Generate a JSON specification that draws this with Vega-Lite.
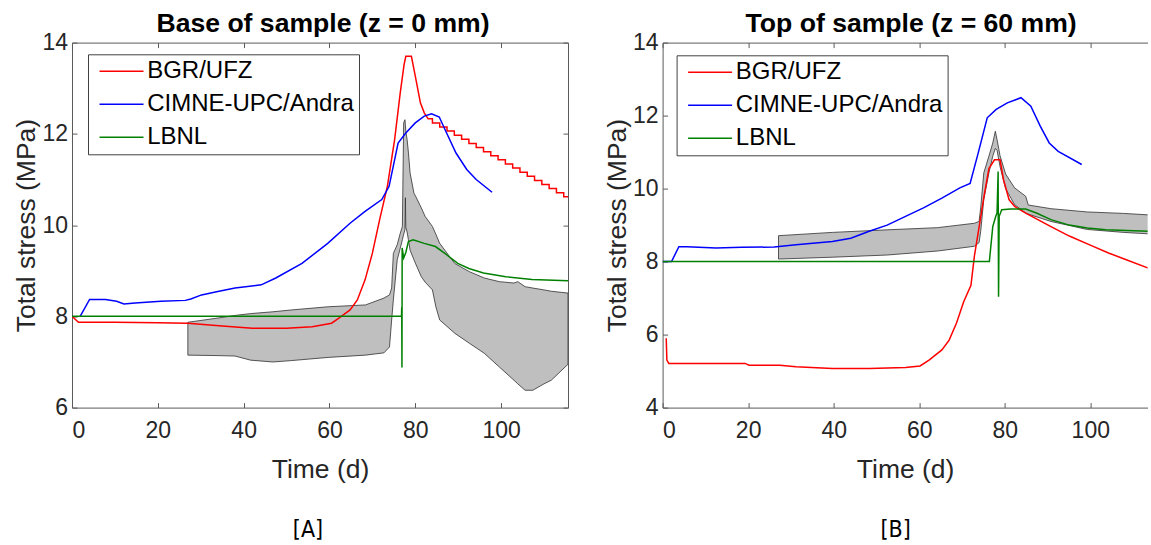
{
  "$schema": "https://vega.github.io/schema/vega-lite/v6.json",
  "padding": {"left": 13, "top": 10.6, "right": 0, "bottom": 0},
  "background": "white",
  "config": {
    "font": "Liberation Sans",
    "view": {"stroke": null},
    "axis": {"domainColor": "#5a5a5a", "tickColor": "#5a5a5a", "tickSize": -5, "labelFontSize": 23, "labelColor": "#262626", "titleFontSize": 26.5, "titleColor": "#262626", "titleFontWeight": "normal", "grid": false, "labelFont": "Liberation Sans", "titleFont": "Liberation Sans"},
    "axisX": {"labelPadding": 17, "titlePadding": 14},
    "axisY": {"labelPadding": 9.5, "titlePadding": 1.2},
    "title": {"fontSize": 26.6, "fontWeight": "bold", "color": "#000000", "font": "Liberation Sans"}
  },
  "datasets": {
    "lines": [
      {"panel": "A", "model": "BGR/UFZ", "t": 0, "v": 8.0},
      {"panel": "A", "model": "BGR/UFZ", "t": 1.5, "v": 7.87},
      {"panel": "A", "model": "BGR/UFZ", "t": 10, "v": 7.87},
      {"panel": "A", "model": "BGR/UFZ", "t": 20, "v": 7.86},
      {"panel": "A", "model": "BGR/UFZ", "t": 27, "v": 7.85},
      {"panel": "A", "model": "BGR/UFZ", "t": 35, "v": 7.79},
      {"panel": "A", "model": "BGR/UFZ", "t": 42, "v": 7.74},
      {"panel": "A", "model": "BGR/UFZ", "t": 50, "v": 7.74},
      {"panel": "A", "model": "BGR/UFZ", "t": 56, "v": 7.77},
      {"panel": "A", "model": "BGR/UFZ", "t": 60.5, "v": 7.85},
      {"panel": "A", "model": "BGR/UFZ", "t": 62.2, "v": 7.96},
      {"panel": "A", "model": "BGR/UFZ", "t": 64.8, "v": 8.14},
      {"panel": "A", "model": "BGR/UFZ", "t": 66.5, "v": 8.36},
      {"panel": "A", "model": "BGR/UFZ", "t": 68.3, "v": 8.8},
      {"panel": "A", "model": "BGR/UFZ", "t": 70, "v": 9.38},
      {"panel": "A", "model": "BGR/UFZ", "t": 71.7, "v": 10.12},
      {"panel": "A", "model": "BGR/UFZ", "t": 73.5, "v": 10.85},
      {"panel": "A", "model": "BGR/UFZ", "t": 75.2, "v": 11.88},
      {"panel": "A", "model": "BGR/UFZ", "t": 76.5, "v": 12.9},
      {"panel": "A", "model": "BGR/UFZ", "t": 77.4, "v": 13.52},
      {"panel": "A", "model": "BGR/UFZ", "t": 77.8, "v": 13.7},
      {"panel": "A", "model": "BGR/UFZ", "t": 79.1, "v": 13.7},
      {"panel": "A", "model": "BGR/UFZ", "t": 80, "v": 13.27},
      {"panel": "A", "model": "BGR/UFZ", "t": 81.2, "v": 12.68},
      {"panel": "A", "model": "BGR/UFZ", "t": 82.1, "v": 12.46},
      {"panel": "A", "model": "BGR/UFZ", "t": 83.0, "v": 12.33},
      {"panel": "A", "model": "BGR/UFZ", "t": 84.0, "v": 12.33},
      {"panel": "A", "model": "BGR/UFZ", "t": 84.01, "v": 12.24},
      {"panel": "A", "model": "BGR/UFZ", "t": 85.7, "v": 12.24},
      {"panel": "A", "model": "BGR/UFZ", "t": 85.71, "v": 12.15},
      {"panel": "A", "model": "BGR/UFZ", "t": 87.4, "v": 12.15},
      {"panel": "A", "model": "BGR/UFZ", "t": 87.41, "v": 12.06},
      {"panel": "A", "model": "BGR/UFZ", "t": 89.1, "v": 12.06},
      {"panel": "A", "model": "BGR/UFZ", "t": 89.11, "v": 11.97},
      {"panel": "A", "model": "BGR/UFZ", "t": 90.8, "v": 11.97},
      {"panel": "A", "model": "BGR/UFZ", "t": 90.81, "v": 11.88},
      {"panel": "A", "model": "BGR/UFZ", "t": 92.5, "v": 11.88},
      {"panel": "A", "model": "BGR/UFZ", "t": 92.51, "v": 11.79},
      {"panel": "A", "model": "BGR/UFZ", "t": 94.2, "v": 11.79},
      {"panel": "A", "model": "BGR/UFZ", "t": 94.21, "v": 11.70},
      {"panel": "A", "model": "BGR/UFZ", "t": 95.9, "v": 11.70},
      {"panel": "A", "model": "BGR/UFZ", "t": 95.91, "v": 11.61},
      {"panel": "A", "model": "BGR/UFZ", "t": 97.6, "v": 11.61},
      {"panel": "A", "model": "BGR/UFZ", "t": 97.61, "v": 11.52},
      {"panel": "A", "model": "BGR/UFZ", "t": 99.3, "v": 11.52},
      {"panel": "A", "model": "BGR/UFZ", "t": 99.31, "v": 11.43},
      {"panel": "A", "model": "BGR/UFZ", "t": 101.0, "v": 11.43},
      {"panel": "A", "model": "BGR/UFZ", "t": 101.01, "v": 11.34},
      {"panel": "A", "model": "BGR/UFZ", "t": 102.7, "v": 11.34},
      {"panel": "A", "model": "BGR/UFZ", "t": 102.71, "v": 11.25},
      {"panel": "A", "model": "BGR/UFZ", "t": 104.4, "v": 11.25},
      {"panel": "A", "model": "BGR/UFZ", "t": 104.41, "v": 11.16},
      {"panel": "A", "model": "BGR/UFZ", "t": 106.1, "v": 11.16},
      {"panel": "A", "model": "BGR/UFZ", "t": 106.11, "v": 11.07},
      {"panel": "A", "model": "BGR/UFZ", "t": 107.8, "v": 11.07},
      {"panel": "A", "model": "BGR/UFZ", "t": 107.81, "v": 10.98},
      {"panel": "A", "model": "BGR/UFZ", "t": 109.5, "v": 10.98},
      {"panel": "A", "model": "BGR/UFZ", "t": 109.51, "v": 10.89},
      {"panel": "A", "model": "BGR/UFZ", "t": 111.2, "v": 10.89},
      {"panel": "A", "model": "BGR/UFZ", "t": 111.21, "v": 10.80},
      {"panel": "A", "model": "BGR/UFZ", "t": 112.9, "v": 10.80},
      {"panel": "A", "model": "BGR/UFZ", "t": 112.91, "v": 10.71},
      {"panel": "A", "model": "BGR/UFZ", "t": 114.6, "v": 10.71},
      {"panel": "A", "model": "BGR/UFZ", "t": 114.61, "v": 10.62},
      {"panel": "A", "model": "BGR/UFZ", "t": 115.6, "v": 10.62},

      {"panel": "A", "model": "CIMNE-UPC/Andra", "t": 1.9, "v": 8.0},
      {"panel": "A", "model": "CIMNE-UPC/Andra", "t": 4.1, "v": 8.37},
      {"panel": "A", "model": "CIMNE-UPC/Andra", "t": 7.8, "v": 8.37},
      {"panel": "A", "model": "CIMNE-UPC/Andra", "t": 10.4, "v": 8.33},
      {"panel": "A", "model": "CIMNE-UPC/Andra", "t": 12.1, "v": 8.27},
      {"panel": "A", "model": "CIMNE-UPC/Andra", "t": 14.7, "v": 8.29},
      {"panel": "A", "model": "CIMNE-UPC/Andra", "t": 20.7, "v": 8.33},
      {"panel": "A", "model": "CIMNE-UPC/Andra", "t": 26.4, "v": 8.35},
      {"panel": "A", "model": "CIMNE-UPC/Andra", "t": 27.7, "v": 8.38},
      {"panel": "A", "model": "CIMNE-UPC/Andra", "t": 30.2, "v": 8.47},
      {"panel": "A", "model": "CIMNE-UPC/Andra", "t": 33.7, "v": 8.54},
      {"panel": "A", "model": "CIMNE-UPC/Andra", "t": 38, "v": 8.62},
      {"panel": "A", "model": "CIMNE-UPC/Andra", "t": 44.1, "v": 8.69},
      {"panel": "A", "model": "CIMNE-UPC/Andra", "t": 47.5, "v": 8.84},
      {"panel": "A", "model": "CIMNE-UPC/Andra", "t": 53.6, "v": 9.16},
      {"panel": "A", "model": "CIMNE-UPC/Andra", "t": 59.6, "v": 9.6},
      {"panel": "A", "model": "CIMNE-UPC/Andra", "t": 64.8, "v": 10.04},
      {"panel": "A", "model": "CIMNE-UPC/Andra", "t": 68.3, "v": 10.3},
      {"panel": "A", "model": "CIMNE-UPC/Andra", "t": 72.2, "v": 10.56},
      {"panel": "A", "model": "CIMNE-UPC/Andra", "t": 73.9, "v": 10.85},
      {"panel": "A", "model": "CIMNE-UPC/Andra", "t": 76, "v": 11.8},
      {"panel": "A", "model": "CIMNE-UPC/Andra", "t": 77.8, "v": 12.02},
      {"panel": "A", "model": "CIMNE-UPC/Andra", "t": 80, "v": 12.24},
      {"panel": "A", "model": "CIMNE-UPC/Andra", "t": 82.1, "v": 12.39},
      {"panel": "A", "model": "CIMNE-UPC/Andra", "t": 83.8, "v": 12.44},
      {"panel": "A", "model": "CIMNE-UPC/Andra", "t": 85.6, "v": 12.37},
      {"panel": "A", "model": "CIMNE-UPC/Andra", "t": 86.9, "v": 12.1},
      {"panel": "A", "model": "CIMNE-UPC/Andra", "t": 89.5, "v": 11.58},
      {"panel": "A", "model": "CIMNE-UPC/Andra", "t": 92, "v": 11.22},
      {"panel": "A", "model": "CIMNE-UPC/Andra", "t": 94.2, "v": 11.0},
      {"panel": "A", "model": "CIMNE-UPC/Andra", "t": 97.9, "v": 10.72},

      {"panel": "A", "model": "LBNL", "t": 0, "v": 8.0},
      {"panel": "A", "model": "LBNL", "t": 76.8, "v": 8.0},
      {"panel": "A", "model": "LBNL", "t": 76.85, "v": 8.2},
      {"panel": "A", "model": "LBNL", "t": 76.9, "v": 6.88},
      {"panel": "A", "model": "LBNL", "t": 76.95, "v": 9.5},
      {"panel": "A", "model": "LBNL", "t": 77.3, "v": 9.28},
      {"panel": "A", "model": "LBNL", "t": 77.8, "v": 9.4},
      {"panel": "A", "model": "LBNL", "t": 78.4, "v": 9.64},
      {"panel": "A", "model": "LBNL", "t": 79.5, "v": 9.68},
      {"panel": "A", "model": "LBNL", "t": 82.1, "v": 9.6},
      {"panel": "A", "model": "LBNL", "t": 84.7, "v": 9.53},
      {"panel": "A", "model": "LBNL", "t": 86.9, "v": 9.38},
      {"panel": "A", "model": "LBNL", "t": 89.9, "v": 9.16},
      {"panel": "A", "model": "LBNL", "t": 92.5, "v": 9.05},
      {"panel": "A", "model": "LBNL", "t": 95.9, "v": 8.95},
      {"panel": "A", "model": "LBNL", "t": 101.1, "v": 8.87},
      {"panel": "A", "model": "LBNL", "t": 107.2, "v": 8.81},
      {"panel": "A", "model": "LBNL", "t": 115.6, "v": 8.78},

      {"panel": "B", "model": "BGR/UFZ", "t": 0.85, "v": 5.9},
      {"panel": "B", "model": "BGR/UFZ", "t": 1.0, "v": 5.3},
      {"panel": "B", "model": "BGR/UFZ", "t": 1.45, "v": 5.21},
      {"panel": "B", "model": "BGR/UFZ", "t": 19.3, "v": 5.21},
      {"panel": "B", "model": "BGR/UFZ", "t": 20.2, "v": 5.16},
      {"panel": "B", "model": "BGR/UFZ", "t": 27.4, "v": 5.16},
      {"panel": "B", "model": "BGR/UFZ", "t": 31.2, "v": 5.12},
      {"panel": "B", "model": "BGR/UFZ", "t": 39.7, "v": 5.07},
      {"panel": "B", "model": "BGR/UFZ", "t": 48.3, "v": 5.07},
      {"panel": "B", "model": "BGR/UFZ", "t": 56.8, "v": 5.1},
      {"panel": "B", "model": "BGR/UFZ", "t": 60.2, "v": 5.14},
      {"panel": "B", "model": "BGR/UFZ", "t": 62.3, "v": 5.3},
      {"panel": "B", "model": "BGR/UFZ", "t": 65.3, "v": 5.58},
      {"panel": "B", "model": "BGR/UFZ", "t": 67, "v": 5.85},
      {"panel": "B", "model": "BGR/UFZ", "t": 68.7, "v": 6.31},
      {"panel": "B", "model": "BGR/UFZ", "t": 70.4, "v": 6.9},
      {"panel": "B", "model": "BGR/UFZ", "t": 72.1, "v": 7.35},
      {"panel": "B", "model": "BGR/UFZ", "t": 72.9, "v": 8.15},
      {"panel": "B", "model": "BGR/UFZ", "t": 73.8, "v": 8.8},
      {"panel": "B", "model": "BGR/UFZ", "t": 75.1, "v": 9.75},
      {"panel": "B", "model": "BGR/UFZ", "t": 76.3, "v": 10.55},
      {"panel": "B", "model": "BGR/UFZ", "t": 77.6, "v": 10.79},
      {"panel": "B", "model": "BGR/UFZ", "t": 78.9, "v": 10.79},
      {"panel": "B", "model": "BGR/UFZ", "t": 79.7, "v": 10.25},
      {"panel": "B", "model": "BGR/UFZ", "t": 81, "v": 9.7},
      {"panel": "B", "model": "BGR/UFZ", "t": 82.3, "v": 9.51},
      {"panel": "B", "model": "BGR/UFZ", "t": 84.9, "v": 9.33},
      {"panel": "B", "model": "BGR/UFZ", "t": 90.8, "v": 8.96},
      {"panel": "B", "model": "BGR/UFZ", "t": 95.1, "v": 8.7},
      {"panel": "B", "model": "BGR/UFZ", "t": 100, "v": 8.45},
      {"panel": "B", "model": "BGR/UFZ", "t": 104.4, "v": 8.23},
      {"panel": "B", "model": "BGR/UFZ", "t": 107.8, "v": 8.08},
      {"panel": "B", "model": "BGR/UFZ", "t": 113.6, "v": 7.82},

      {"panel": "B", "model": "CIMNE-UPC/Andra", "t": 0, "v": 8.0},
      {"panel": "B", "model": "CIMNE-UPC/Andra", "t": 2.1, "v": 8.0},
      {"panel": "B", "model": "CIMNE-UPC/Andra", "t": 3.8, "v": 8.41},
      {"panel": "B", "model": "CIMNE-UPC/Andra", "t": 5.7, "v": 8.41},
      {"panel": "B", "model": "CIMNE-UPC/Andra", "t": 12.5, "v": 8.37},
      {"panel": "B", "model": "CIMNE-UPC/Andra", "t": 18.5, "v": 8.39},
      {"panel": "B", "model": "CIMNE-UPC/Andra", "t": 26.1, "v": 8.4},
      {"panel": "B", "model": "CIMNE-UPC/Andra", "t": 31.2, "v": 8.46},
      {"panel": "B", "model": "CIMNE-UPC/Andra", "t": 39.7, "v": 8.55},
      {"panel": "B", "model": "CIMNE-UPC/Andra", "t": 44, "v": 8.64},
      {"panel": "B", "model": "CIMNE-UPC/Andra", "t": 48.3, "v": 8.83},
      {"panel": "B", "model": "CIMNE-UPC/Andra", "t": 52.5, "v": 9.0},
      {"panel": "B", "model": "CIMNE-UPC/Andra", "t": 56.8, "v": 9.24},
      {"panel": "B", "model": "CIMNE-UPC/Andra", "t": 61, "v": 9.47},
      {"panel": "B", "model": "CIMNE-UPC/Andra", "t": 65.3, "v": 9.74},
      {"panel": "B", "model": "CIMNE-UPC/Andra", "t": 69.5, "v": 10.02},
      {"panel": "B", "model": "CIMNE-UPC/Andra", "t": 71.9, "v": 10.14},
      {"panel": "B", "model": "CIMNE-UPC/Andra", "t": 73.8, "v": 10.98},
      {"panel": "B", "model": "CIMNE-UPC/Andra", "t": 75.9, "v": 11.94},
      {"panel": "B", "model": "CIMNE-UPC/Andra", "t": 78, "v": 12.17},
      {"panel": "B", "model": "CIMNE-UPC/Andra", "t": 80.6, "v": 12.35},
      {"panel": "B", "model": "CIMNE-UPC/Andra", "t": 83.8, "v": 12.49},
      {"panel": "B", "model": "CIMNE-UPC/Andra", "t": 86.1, "v": 12.26},
      {"panel": "B", "model": "CIMNE-UPC/Andra", "t": 88.3, "v": 11.71},
      {"panel": "B", "model": "CIMNE-UPC/Andra", "t": 90.4, "v": 11.25},
      {"panel": "B", "model": "CIMNE-UPC/Andra", "t": 92.5, "v": 11.02},
      {"panel": "B", "model": "CIMNE-UPC/Andra", "t": 98, "v": 10.66},

      {"panel": "B", "model": "LBNL", "t": 0, "v": 8.0},
      {"panel": "B", "model": "LBNL", "t": 76.4, "v": 8.0},
      {"panel": "B", "model": "LBNL", "t": 77.2, "v": 8.96},
      {"panel": "B", "model": "LBNL", "t": 77.9, "v": 9.24},
      {"panel": "B", "model": "LBNL", "t": 78.2, "v": 9.33},
      {"panel": "B", "model": "LBNL", "t": 78.45, "v": 10.47},
      {"panel": "B", "model": "LBNL", "t": 78.55, "v": 7.04},
      {"panel": "B", "model": "LBNL", "t": 78.7, "v": 9.24},
      {"panel": "B", "model": "LBNL", "t": 79.3, "v": 9.42},
      {"panel": "B", "model": "LBNL", "t": 81.4, "v": 9.44},
      {"panel": "B", "model": "LBNL", "t": 84.9, "v": 9.44},
      {"panel": "B", "model": "LBNL", "t": 87.4, "v": 9.33},
      {"panel": "B", "model": "LBNL", "t": 90.8, "v": 9.15},
      {"panel": "B", "model": "LBNL", "t": 95.1, "v": 9.0},
      {"panel": "B", "model": "LBNL", "t": 99.3, "v": 8.92},
      {"panel": "B", "model": "LBNL", "t": 103.6, "v": 8.87},
      {"panel": "B", "model": "LBNL", "t": 113.6, "v": 8.83}
    ],
    "band": [
      {"panel": "A", "t": 27.0, "lo": 7.15, "hi": 7.87},
      {"panel": "A", "t": 33.8, "lo": 7.14, "hi": 7.96},
      {"panel": "A", "t": 38.0, "lo": 7.13, "hi": 8.02},
      {"panel": "A", "t": 41.6, "lo": 7.04, "hi": 8.06},
      {"panel": "A", "t": 46.8, "lo": 7.0, "hi": 8.1},
      {"panel": "A", "t": 51.1, "lo": 7.03, "hi": 8.14},
      {"panel": "A", "t": 59.7, "lo": 7.1, "hi": 8.21},
      {"panel": "A", "t": 68.4, "lo": 7.15, "hi": 8.25},
      {"panel": "A", "t": 72.7, "lo": 7.2, "hi": 8.4},
      {"panel": "A", "t": 74.0, "lo": 7.33, "hi": 8.47},
      {"panel": "A", "t": 74.5, "lo": 7.92, "hi": 8.62},
      {"panel": "A", "t": 74.9, "lo": 8.36, "hi": 9.38},
      {"panel": "A", "t": 75.8, "lo": 9.24, "hi": 9.57},
      {"panel": "A", "t": 76.5, "lo": 9.49, "hi": 9.82},
      {"panel": "A", "t": 77.0, "lo": 9.68, "hi": 9.97},
      {"panel": "A", "t": 77.3, "lo": 9.8, "hi": 12.24},
      {"panel": "A", "t": 77.6, "lo": 9.9, "hi": 12.31},
      {"panel": "A", "t": 77.7, "lo": 10.6, "hi": 12.2},
      {"panel": "A", "t": 77.8, "lo": 9.95, "hi": 12.05},
      {"panel": "A", "t": 78.1, "lo": 9.85, "hi": 11.88},
      {"panel": "A", "t": 78.4, "lo": 9.68, "hi": 11.6},
      {"panel": "A", "t": 78.8, "lo": 9.45, "hi": 11.14},
      {"panel": "A", "t": 79.7, "lo": 9.24, "hi": 10.7},
      {"panel": "A", "t": 80.1, "lo": 9.15, "hi": 10.63},
      {"panel": "A", "t": 81.4, "lo": 8.87, "hi": 10.38},
      {"panel": "A", "t": 82.3, "lo": 8.75, "hi": 10.19},
      {"panel": "A", "t": 84.0, "lo": 8.58, "hi": 9.97},
      {"panel": "A", "t": 84.8, "lo": 8.21, "hi": 9.8},
      {"panel": "A", "t": 85.7, "lo": 7.92, "hi": 9.6},
      {"panel": "A", "t": 89.2, "lo": 7.63, "hi": 9.16},
      {"panel": "A", "t": 92.6, "lo": 7.41, "hi": 8.98},
      {"panel": "A", "t": 96.1, "lo": 7.19, "hi": 8.84},
      {"panel": "A", "t": 99.6, "lo": 6.89, "hi": 8.76},
      {"panel": "A", "t": 103.0, "lo": 6.6, "hi": 8.73},
      {"panel": "A", "t": 103.9, "lo": 6.52, "hi": 8.76},
      {"panel": "A", "t": 105.6, "lo": 6.38, "hi": 8.65},
      {"panel": "A", "t": 107.4, "lo": 6.38, "hi": 8.62},
      {"panel": "A", "t": 110.0, "lo": 6.52, "hi": 8.58},
      {"panel": "A", "t": 111.7, "lo": 6.6, "hi": 8.55},
      {"panel": "A", "t": 115.6, "lo": 6.95, "hi": 8.51},

      {"panel": "B", "t": 27.1, "lo": 8.07, "hi": 8.71},
      {"panel": "B", "t": 39.7, "lo": 8.12, "hi": 8.8},
      {"panel": "B", "t": 52.5, "lo": 8.18, "hi": 8.87},
      {"panel": "B", "t": 64.3, "lo": 8.29, "hi": 8.93},
      {"panel": "B", "t": 72.9, "lo": 8.42, "hi": 9.05},
      {"panel": "B", "t": 74.0, "lo": 8.52, "hi": 9.1},
      {"panel": "B", "t": 74.4, "lo": 8.85, "hi": 9.5},
      {"panel": "B", "t": 75.1, "lo": 9.7, "hi": 10.43},
      {"panel": "B", "t": 76.3, "lo": 10.43, "hi": 10.89},
      {"panel": "B", "t": 77.2, "lo": 10.89, "hi": 11.25},
      {"panel": "B", "t": 77.8, "lo": 11.1, "hi": 11.57},
      {"panel": "B", "t": 78.2, "lo": 11.05, "hi": 11.34},
      {"panel": "B", "t": 78.9, "lo": 10.6, "hi": 10.9},
      {"panel": "B", "t": 80.2, "lo": 10.0, "hi": 10.4},
      {"panel": "B", "t": 82.3, "lo": 9.56, "hi": 10.02},
      {"panel": "B", "t": 84.9, "lo": 9.33, "hi": 9.79},
      {"panel": "B", "t": 85.5, "lo": 9.3, "hi": 9.55},
      {"panel": "B", "t": 90.8, "lo": 9.1, "hi": 9.45},
      {"panel": "B", "t": 99.3, "lo": 8.88, "hi": 9.36},
      {"panel": "B", "t": 107.8, "lo": 8.8, "hi": 9.32},
      {"panel": "B", "t": 113.6, "lo": 8.76, "hi": 9.28}
    ]
  },
  "hconcat": [
    {
      "title": {"text": "[A]", "orient": "bottom", "anchor": "middle", "frame": "group", "fontSize": 23, "fontWeight": "normal", "font": "Liberation Sans Narrow, DejaVu Sans Condensed, Liberation Sans", "offset": 36, "dx": 236},
      "vconcat": [
        {
          "width": 496,
          "height": 365,
          "title": {"text": "Base of sample (z = 0 mm)", "offset": -5.6, "dx": 3},
          "layer": [
            {
              "data": {"name": "band"},
              "transform": [{"filter": "datum.panel === 'A'"}],
              "mark": {"type": "area", "color": "#bfbfbf", "stroke": "#303030", "strokeWidth": 0.8, "clip": true},
              "encoding": {
                "x": {"field": "t", "type": "quantitative", "scale": {"domain": [0, 115.6], "nice": false, "zero": false}, "axis": {"title": "Time (d)", "orient": "bottom", "values": [0, 20, 40, 60, 80, 100]}},
                "y": {"field": "lo", "type": "quantitative", "scale": {"domain": [6, 14], "nice": false, "zero": false}, "axis": {"title": "Total stress (MPa)", "orient": "left", "values": [6, 8, 10, 12, 14]}},
                "y2": {"field": "hi"}
              }
            },
            {
              "data": {"name": "lines"},
              "transform": [{"filter": "datum.panel === 'A'"}],
              "mark": {"type": "line", "strokeWidth": 1.5, "clip": true},
              "encoding": {
                "x": {"field": "t", "type": "quantitative", "axis": {"title": null, "orient": "top", "labels": false, "values": [0, 20, 40, 60, 80, 100]}},
                "y": {"field": "v", "type": "quantitative", "axis": {"title": null, "orient": "right", "labels": false, "values": [6, 8, 10, 12, 14]}},
                "color": {
                  "field": "model", "type": "nominal",
                  "scale": {"domain": ["BGR/UFZ", "CIMNE-UPC/Andra", "LBNL"], "range": ["#ff0000", "#0000ff", "#008000"]},
                  "legend": {"orient": "none", "legendX": 16, "legendY": 11.7, "title": null, "symbolType": "M-1,0H7", "symbolSize": 121, "symbolStrokeWidth": 1.5, "labelFontSize": 24, "labelFont": "Liberation Sans", "labelColor": "#000000", "labelOffset": 30.2, "strokeColor": "#404040", "fillColor": "#ffffff", "padding": 5, "rowPadding": 9, "labelLimit": 400}
                }
              }
            }
          ],
          "resolve": {"axis": {"x": "independent", "y": "independent"}}
        }
      ]
    },
    {
      "title": {"text": "[B]", "orient": "bottom", "anchor": "middle", "frame": "group", "fontSize": 23, "fontWeight": "normal", "font": "Liberation Sans Narrow, DejaVu Sans Condensed, Liberation Sans", "offset": 36, "dx": 233},
      "vconcat": [
        {
          "width": 485,
          "height": 365,
          "title": {"text": "Top of sample (z = 60 mm)", "offset": -5.6, "dx": 6},
          "layer": [
            {
              "data": {"name": "band"},
              "transform": [{"filter": "datum.panel === 'B'"}],
              "mark": {"type": "area", "color": "#bfbfbf", "stroke": "#303030", "strokeWidth": 0.8, "clip": true},
              "encoding": {
                "x": {"field": "t", "type": "quantitative", "scale": {"domain": [0, 113.4], "nice": false, "zero": false}, "axis": {"title": "Time (d)", "orient": "bottom", "values": [0, 20, 40, 60, 80, 100]}},
                "y": {"field": "lo", "type": "quantitative", "scale": {"domain": [4, 14], "nice": false, "zero": false}, "axis": {"title": "Total stress (MPa)", "orient": "left", "values": [4, 6, 8, 10, 12, 14]}},
                "y2": {"field": "hi"}
              }
            },
            {
              "data": {"name": "lines"},
              "transform": [{"filter": "datum.panel === 'B'"}],
              "mark": {"type": "line", "strokeWidth": 1.5, "clip": true},
              "encoding": {
                "x": {"field": "t", "type": "quantitative", "axis": {"title": null, "orient": "top", "labels": false, "values": [0, 20, 40, 60, 80, 100]}},
                "y": {"field": "v", "type": "quantitative", "axis": null},
                "color": {
                  "field": "model", "type": "nominal",
                  "scale": {"domain": ["BGR/UFZ", "CIMNE-UPC/Andra", "LBNL"], "range": ["#ff0000", "#0000ff", "#008000"]},
                  "legend": {"orient": "none", "legendX": 14, "legendY": 12.7, "title": null, "symbolType": "M-1,0H7", "symbolSize": 121, "symbolStrokeWidth": 1.5, "labelFontSize": 24, "labelFont": "Liberation Sans", "labelColor": "#000000", "labelOffset": 30.2, "strokeColor": "#404040", "fillColor": "#ffffff", "padding": 5, "rowPadding": 9, "labelLimit": 400}
                }
              }
            }
          ],
          "resolve": {"axis": {"x": "independent", "y": "independent"}}
        }
      ]
    }
  ],
  "spacing": 34.6,
  "resolve": {"scale": {"color": "independent"}, "legend": {"color": "independent"}}
}
